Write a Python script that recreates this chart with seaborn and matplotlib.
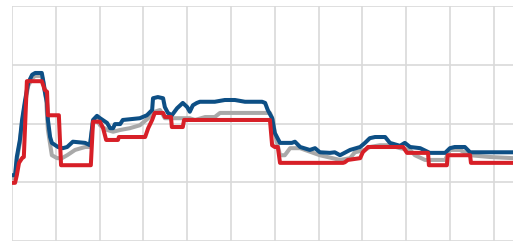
import matplotlib
matplotlib.use("Agg")
import matplotlib.pyplot as plt
import seaborn as sns

# Three step-like series (x: 0..114.4, y: 0..40)
gray_x = [0, 0.7, 1.1, 1.8, 2.3, 3.0, 3.7, 4.6, 5.3, 6.8, 7.3, 7.8, 8.2, 9.1, 10.3, 11.4,
          12.6, 14.4, 16.7, 17.8, 18.5, 19.4, 20.1, 21.7, 23.1, 24.7, 26.9, 29.2, 31.1, 32.6,
          33.8, 34.9, 37.7, 40.6, 41.8, 44.1, 46.3, 47.5, 58.9, 59.6, 60.0, 61.2, 62.3, 63.5,
          65.8, 66.9, 70.3, 74.9, 77.2, 78.3, 80.6, 81.7, 84.0, 86.3, 88.6, 90.9, 92.0, 94.3,
          98.9, 100.0, 102.3, 104.6, 109.1, 114.4]
gray_y = [10.7, 10.7, 13.8, 16.7, 20.1, 23.5, 26.4, 27.7, 28.1, 28.1, 26.6, 24.0, 18.9, 14.6, 14.1, 14.1,
          14.6, 15.5, 16.0, 16.0, 20.3, 20.6, 19.7, 18.9, 18.6, 18.9, 19.2, 19.7, 20.9, 22.0,
          22.3, 20.9, 20.9, 20.9, 20.6, 21.1, 21.1, 21.8, 21.8, 20.6, 18.4, 14.6, 14.6, 15.8,
          15.8, 15.5, 14.6, 13.8, 14.1, 15.1, 15.5, 16.0, 16.3, 16.3, 15.8, 15.5, 14.6, 13.8,
          13.8, 15.5, 15.5, 14.6, 14.3, 14.1]

blue_x = [0, 0.7, 1.1, 1.8, 2.3, 3.0, 3.7, 4.6, 5.3, 6.8, 7.1, 7.5, 8.0, 8.2, 8.7, 9.1,
          10.5, 11.6, 12.6, 13.9, 16.7, 17.8, 18.5, 19.4, 20.1, 21.7, 22.4, 23.1, 23.5, 24.7,
          25.3, 29.2, 30.8, 32.0, 32.2, 33.3, 34.5, 34.9, 35.6, 36.5, 37.7, 39.0, 40.0, 40.6,
          41.3, 42.2, 42.9, 46.3, 48.6, 50.9, 53.2, 57.1, 57.8, 58.4, 59.4, 60.0, 61.2, 63.9,
          64.6, 65.8, 68.0, 69.2, 70.3, 72.6, 73.7, 74.9, 77.2, 79.5, 80.6, 81.7, 82.9, 85.2,
          86.3, 88.6, 89.7, 90.9, 93.2, 95.4, 98.9, 100.0, 101.1, 103.4, 104.6, 114.4]
blue_y = [11.2, 11.2, 14.3, 17.2, 20.6, 24.0, 26.9, 28.3, 28.6, 28.6, 27.4, 25.4, 23.5, 20.6, 17.7, 16.7,
          16.0, 15.8, 16.0, 16.9, 16.7, 16.3, 20.6, 21.3, 20.9, 20.1, 19.2, 19.2, 19.9, 19.9,
          20.6, 20.9, 21.4, 22.3, 24.3, 24.5, 24.3, 22.8, 21.8, 21.4, 22.6, 23.5, 22.8, 22.0,
          23.1, 23.5, 23.7, 23.7, 24.0, 24.0, 23.7, 23.7, 23.5, 22.3, 20.9, 18.4, 16.7, 16.7,
          16.9, 16.0, 15.5, 15.8, 15.1, 15.0, 15.1, 14.6, 15.5, 16.0, 16.7, 17.5, 17.7, 17.7,
          16.7, 16.2, 16.7, 16.0, 15.8, 15.0, 15.0, 15.8, 16.0, 16.0, 15.1, 15.1]

red_x = [0, 0.7, 1.1, 1.6, 2.3, 2.7, 3.4, 6.8, 7.5, 8.0, 8.2, 10.7, 11.2, 18.0, 18.5, 20.1,
         20.8, 21.5, 24.2, 24.4, 30.4, 31.1, 32.0, 32.6, 34.5, 34.9, 36.3, 36.5, 39.0, 39.3,
         58.9, 59.4, 60.0, 60.7, 61.2, 75.6, 76.0, 76.7, 79.5, 80.1, 81.3, 89.3, 90.2, 95.0,
         95.2, 99.3, 99.5, 104.6, 104.8, 114.4]
red_y = [9.9, 9.9, 11.2, 13.3, 14.1, 14.3, 27.2, 27.2, 25.7, 25.4, 21.4, 21.4, 12.9, 12.9, 20.3, 20.3,
         19.2, 17.2, 17.2, 17.7, 17.7, 19.2, 20.6, 21.8, 21.8, 21.1, 21.1, 19.4, 19.4, 20.6,
         20.6, 16.3, 16.0, 16.0, 13.3, 13.3, 13.4, 13.8, 14.1, 15.1, 16.0, 16.0, 15.0, 15.0,
         12.9, 12.9, 14.6, 14.6, 13.3, 13.3]

series = [
    (gray_x, gray_y, "#a9a9a9"),
    (blue_x, blue_y, "#0d4f85"),
    (red_x, red_y, "#d71f27"),
]

sns.set_style("white")
fig = plt.figure(figsize=(5.2, 2.42), dpi=100)
ax = fig.add_axes([12 / 520, 1 / 242, 501 / 520, 235 / 242])

for xs, ys, col in series:
    sns.lineplot(x=xs, y=ys, color=col, linewidth=2.9, sort=False,
                 estimator=None, ax=ax)

ax.set_xlim(0, 114.4)
ax.set_ylim(0, 40)
ax.set_xticks(range(0, 111, 10))
ax.set_yticks(range(0, 41, 10))
ax.grid(True, color="#d9d9d9", linewidth=1.2)
ax.set_axisbelow(True)
ax.tick_params(length=0, labelbottom=False, labelleft=False)
for s in ax.spines.values():
    s.set_visible(False)

fig.savefig("out.png", dpi=100)
